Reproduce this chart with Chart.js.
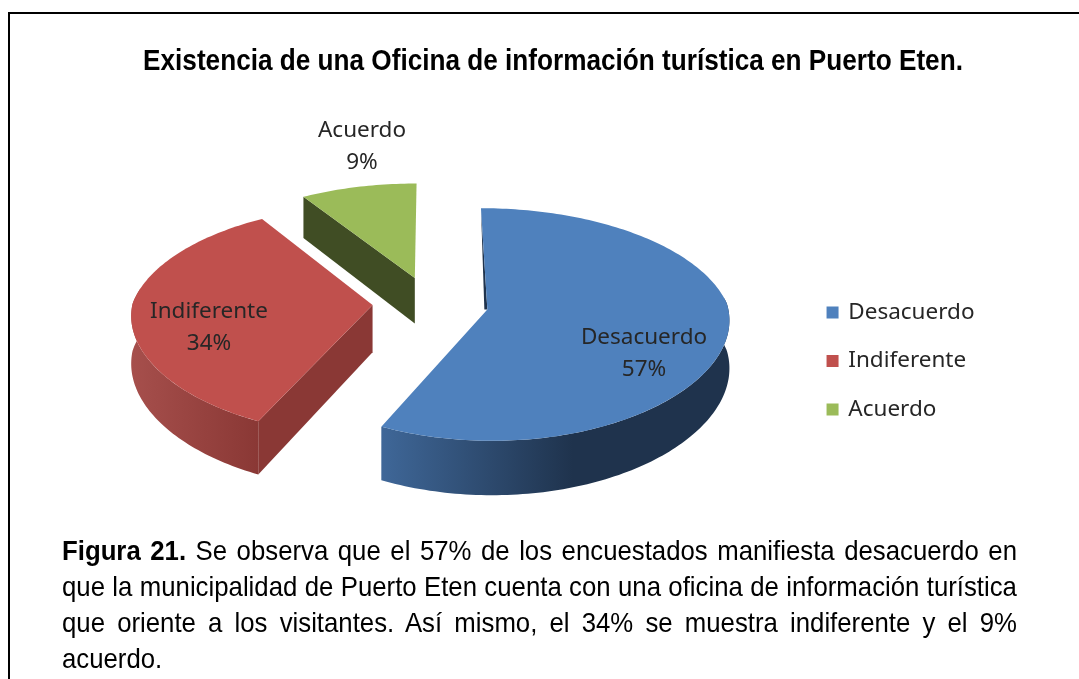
<!DOCTYPE html>
<html lang="es">
<head>
<meta charset="utf-8">
<title>Existencia de una Oficina de información turística en Puerto Eten</title>
<script src="https://cdn.jsdelivr.net/npm/chart.js@4"></script>
<style>
html,body{margin:0;padding:0;background:#fff;width:1079px;height:679px;overflow:hidden}
#frame{position:absolute;left:8px;top:12px;width:1200px;height:800px;border-top:2px solid #000;border-left:2px solid #000}
canvas{position:absolute;left:0;top:0}
#caption{position:absolute;left:62px;top:533px;width:1038px;transform-origin:0 0;transform:scaleX(0.92);font:28px/36px "Liberation Sans",sans-serif;color:#000}
#caption div{text-align:justify;text-align-last:justify;white-space:nowrap}
#caption div:last-child{text-align-last:left}
</style>
</head>
<body>
<div id="frame"></div>
<canvas id="c" width="1079" height="679"></canvas>
<div id="caption">
<div><b>Figura 21.</b> Se observa que el 57% de los encuestados manifiesta desacuerdo en</div>
<div>que la municipalidad de Puerto Eten cuenta con una oficina de información turística</div>
<div>que oriente a los visitantes. Así mismo, el 34% se muestra indiferente y el 9%</div>
<div>acuerdo.</div>
</div>
<script>
const chartTitle = 'Existencia de una Oficina de información turística en Puerto Eten.';
const categories = ['Desacuerdo', 'Indiferente', 'Acuerdo'];
const percentages = [57, 34, 9];
const explode = [232, 232, 232];
const topColors = ['#4F81BD', '#C0504D', '#9BBB59'];
const wallLight = ['#3F6798', '#A64F4C', '#404D24'];
const wallDark = ['#1F334D', '#8A3835', '#404D24'];
const cutColors = ['#1F334D', '#8A3835', '#404D24'];
const labelCentres = [[644, 352], [209, 326], [362, 145]];

const TILT = 0.47, PERSP = 0.000538, PERSP_X_FRONT = 0.00032, DEPTH = 47, SHIFT_Y = -57.5;
const TITLE_SQUEEZE = 0.902, TITLE_CENTRE = 553;

const pie3d = {
  id: 'pie3d',
  afterLayout(chart) {
    const t = chart.titleBlock;
    if (t._squeezed) return;
    t._squeezed = true;
    const draw = t.draw;
    t.draw = function () {
      const ctx = chart.ctx, mid = (t.left + t.right) / 2;
      ctx.save();
      ctx.translate(TITLE_CENTRE, 0);
      ctx.scale(TITLE_SQUEEZE, 1);
      ctx.translate(-mid, 0);
      draw.call(t);
      ctx.restore();
    };
  },
  beforeDatasetDraw(chart) {
    const ctx = chart.ctx;
    const arcs = chart.getDatasetMeta(0).data;
    const proj = (arc, u, v, z) => {
      const s = 1 / (1 - PERSP * v);
      const sx = v < 0 ? s : 1 / (1 - PERSP_X_FRONT * v);
      return [arc.x + u * sx, arc.y + SHIFT_Y + TILT * v * s + z * s];
    };
    const poly = (pts, fill) => {
      ctx.beginPath();
      pts.forEach((p, i) => i ? ctx.lineTo(p[0], p[1]) : ctx.moveTo(p[0], p[1]));
      ctx.closePath();
      ctx.fillStyle = fill;
      ctx.fill();
    };
    [2, 1, 0].forEach(i => {
      const arc = arcs[i];
      const a0 = arc.startAngle, a1 = arc.endAngle, r = arc.outerRadius;
      const mid = (a0 + a1) / 2, off = arc.options.offset / 4;
      const ou = Math.cos(mid) * off, ov = Math.sin(mid) * off;
      const at = (a, z) => proj(arc, ou + Math.cos(a) * r, ov + Math.sin(a) * r, z);
      const apex = z => proj(arc, ou, ov, z);
      const arcPts = (from, to, z) => {
        const n = Math.max(2, Math.ceil((to - from) / 0.02)), out = [];
        for (let k = 0; k <= n; k++) out.push(at(from + (to - from) * k / n, z));
        return out;
      };
      // cut faces turned towards the viewer
      [a0, a1].forEach(a => {
        const sideNormal = a === a0 ? a - Math.PI / 2 : a + Math.PI / 2;
        if (Math.sin(sideNormal) > 0.05) {
          poly([apex(0), at(a, 0), at(a, DEPTH), apex(DEPTH)], cutColors[i]);
        }
      });
      // outer wall, front half plus the silhouette overhang
      const from = Math.max(a0, -0.1);
      const to = Math.min(a1, Math.PI + 0.15);
      if (to > from && i < 2) {
        const top = arcPts(from, to, 0), bot = arcPts(from, to, DEPTH).reverse();
        const xs = top.map(p => p[0]);
        const minX = Math.min(...xs), maxX = Math.max(...xs);
        const shade = ctx.createLinearGradient(maxX, 0, minX, 0);
        shade.addColorStop(0, wallDark[i]);
        shade.addColorStop(i === 0 ? 0.45 : 0.0, wallDark[i]);
        shade.addColorStop(1, wallLight[i]);
        poly(top.concat(bot), shade);
      }
      // thin dark sliver beside the blue slice's starting edge
      if (i === 0) {
        const ap = apex(0), back = at(a0, 0);
        poly([ap, back, [ap[0] - 3, ap[1]]], cutColors[0]);
      }
      // top face
      poly([apex(0)].concat(arcPts(a0, a1, 0)), topColors[i]);
    });
    // data labels
    ctx.fillStyle = '#262626';
    ctx.font = '22.5px "Noto Sans"';
    ctx.textAlign = 'center';
    ctx.textBaseline = 'middle';
    labelCentres.forEach((c, i) => {
      ctx.fillText(categories[i], c[0], c[1] - 14.5);
      ctx.fillText(percentages[i] + '%', c[0], c[1] + 17.5);
    });
    return false;
  }
};

new Chart(document.getElementById('c'), {
  type: 'pie',
  data: {
    labels: categories,
    datasets: [{
      data: percentages,
      backgroundColor: topColors,
      borderWidth: 0,
      offset: explode,
      radius: 240
    }]
  },
  plugins: [pie3d],
  options: {
    responsive: false,
    animation: false,
    layout: { padding: { left: 59, right: 94.5, top: 0, bottom: 47 } },
    plugins: {
      title: {
        display: true,
        text: chartTitle,
        color: '#000',
        font: { family: '"Liberation Sans"', size: 29, weight: 'bold' },
        padding: { top: 44.5, bottom: 10.5 }
      },
      legend: {
        position: 'right',
        fullSize: false,
        labels: {
          usePointStyle: true,
          pointStyle: 'rect',
          boxWidth: 9,
          boxHeight: 12,
          padding: 26,
          color: '#262626',
          font: { family: '"Noto Sans"', size: 22.5 }
        }
      },
      tooltip: { enabled: false }
    }
  }
});
</script>
</body>
</html>
